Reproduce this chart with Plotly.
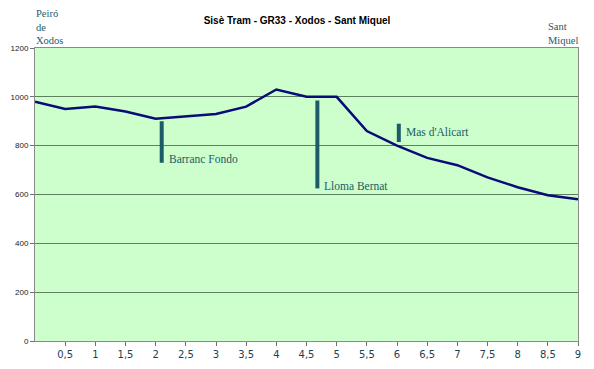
import plotly.graph_objects as go

# Profile data (distance km, altitude m)
distance = [0, 0.5, 1, 1.5, 2, 2.5, 3, 3.5, 4, 4.5, 5, 5.5, 6, 6.5, 7, 7.5, 8, 8.5, 9]
altitude = [980, 950, 960, 940, 910, 920, 930, 960, 1030, 1000, 1000, 860, 800, 750, 720, 670, 630, 597, 580]

# Place markers
place_names = ["Barranc Fondo", "Lloma Bernat", "Mas d'Alicart"]
place_x = [2.1, 4.68, 6.03]
place_top = [900, 985, 890]
place_bottom = [730, 625, 815]
place_label_y = [745, 636, 855]

x_tick_vals = [0.5, 1, 1.5, 2, 2.5, 3, 3.5, 4, 4.5, 5, 5.5, 6, 6.5, 7, 7.5, 8, 8.5, 9]
x_tick_text = ["0,5", "1", "1,5", "2", "2,5", "3", "3,5", "4", "4,5", "5", "5,5", "6", "6,5", "7", "7,5", "8", "8,5", "9"]
y_tick_vals = [0, 200, 400, 600, 800, 1000, 1200]

title_text = "Sisè Tram - GR33 - Xodos - Sant Miquel"
start_label = "Peiró<br>de<br>Xodos"
end_label = "Sant<br>Miquel"

teal = "#1d5b68"

W, H = 586, 361  # page adds an 8px body margin

fig = go.Figure()

fig.add_trace(go.Scatter(x=distance, y=altitude, mode="lines",
                         line=dict(color="#0a0a78", width=2.5), hoverinfo="skip"))

for name, px, top, bot, ly in zip(place_names, place_x, place_top, place_bottom, place_label_y):
    fig.add_trace(go.Scatter(x=[px, px], y=[bot, top], mode="lines",
                             line=dict(color=teal, width=4), hoverinfo="skip"))
    fig.add_annotation(x=px, y=ly, text=name, showarrow=False, xanchor="left",
                       xshift=5, yanchor="middle",
                       font=dict(family="Liberation Serif", size=11.5, color=teal))

fig.add_annotation(xref="paper", yref="paper", x=-0.002, y=1.0, yshift=0,
                   text=start_label, showarrow=False, xanchor="left", yanchor="bottom",
                   align="left",
                   font=dict(family="Liberation Serif", size=10.5, color=teal))
fig.add_annotation(xref="paper", yref="paper", x=1.003, y=1.0, yshift=0,
                   text=end_label, showarrow=False, xanchor="right", yanchor="bottom",
                   align="left",
                   font=dict(family="Liberation Serif", size=10.5, color=teal))

fig.update_layout(
    width=W, height=H,
    margin=dict(l=27, r=16, t=40, b=28, autoexpand=False),
    paper_bgcolor="white",
    plot_bgcolor="#ccffcc",
    showlegend=False,
    title=dict(text="<b>" + title_text + "</b>", x=(297 - 8) / W, xanchor="center",
               y=1 - 12 / H, yanchor="middle",
               font=dict(family="Liberation Sans", size=10, color="#000000")),
    xaxis=dict(range=[0, 9], tickvals=x_tick_vals, ticktext=x_tick_text,
               showgrid=False, zeroline=False, showline=True, mirror=True,
               linecolor="#8a8a8a", linewidth=1, ticks="outside", ticklen=4,
               tickcolor="#707070", automargin=False,
               tickfont=dict(family="DejaVu Sans", size=10, color="#1f3f55")),
    yaxis=dict(range=[0, 1200], tickvals=y_tick_vals,
               showgrid=True, gridcolor="#5f7f5f", gridwidth=1,
               zeroline=False, showline=True, mirror=True,
               linecolor="#8a8a8a", linewidth=1, ticks="outside", ticklen=4,
               tickcolor="#707070", automargin=False,
               tickfont=dict(family="Liberation Sans", size=8, color="#222222")),
)

fig.write_html("out.html")
